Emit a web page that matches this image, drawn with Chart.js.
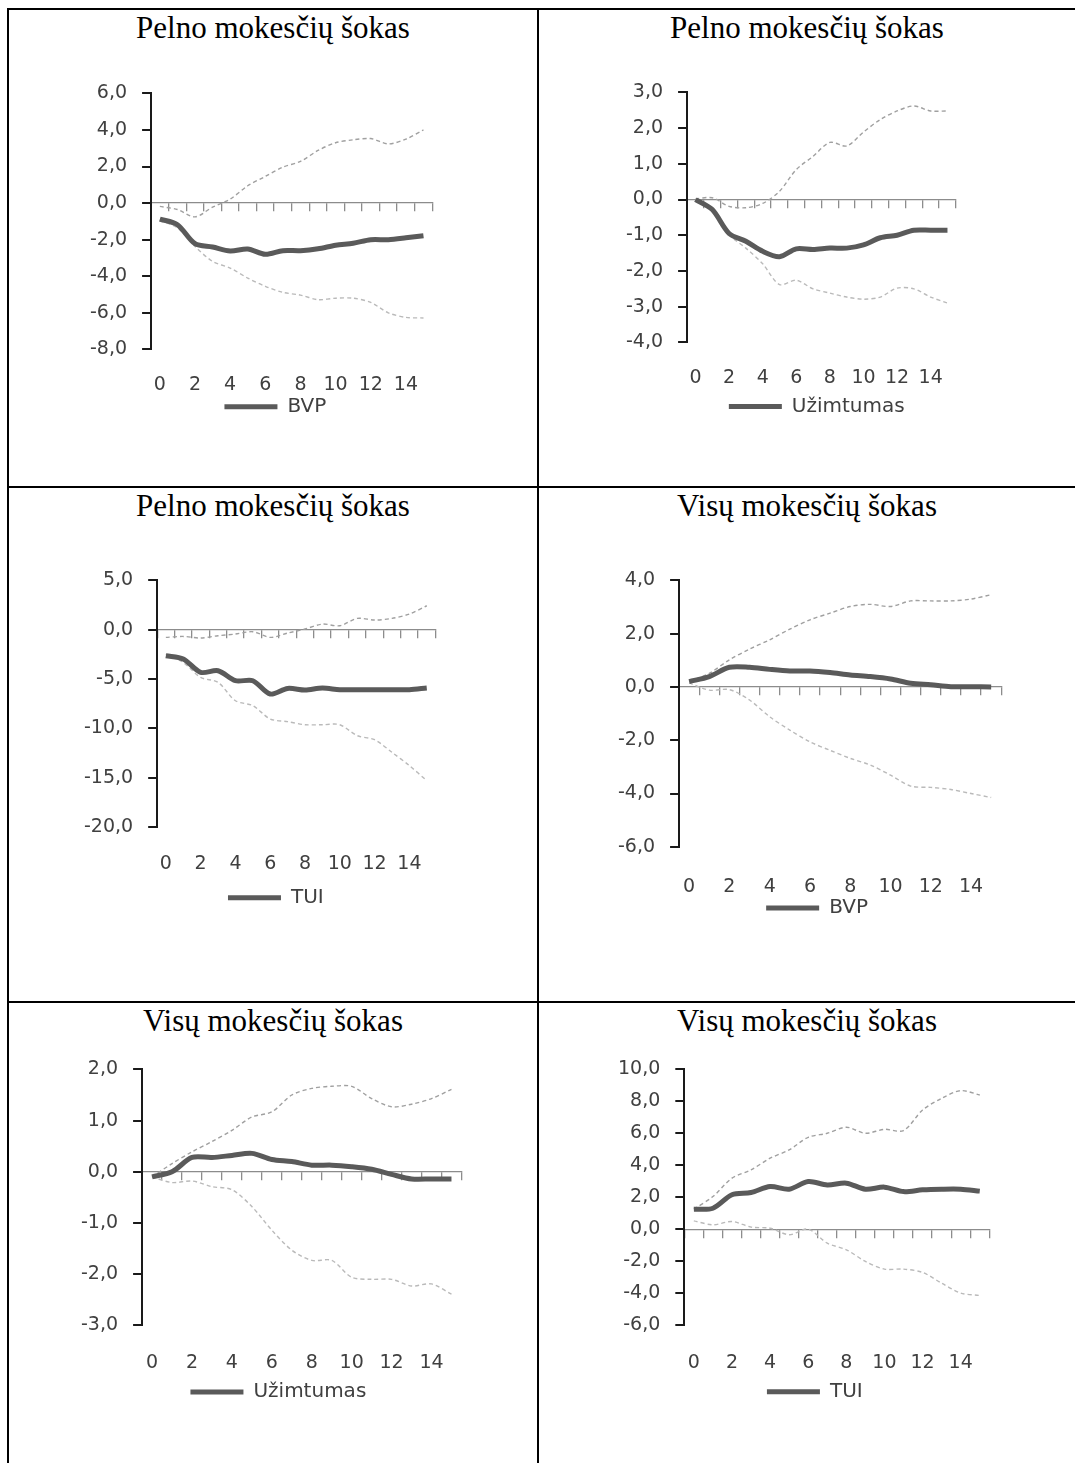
<!DOCTYPE html>
<html>
<head>
<meta charset="utf-8">
<script src="https://cdn.jsdelivr.net/npm/chart.js@4.4.0/dist/chart.umd.min.js"></script>
<style>
html, body { margin: 0; padding: 0; background: #fff; width: 1075px; height: 1463px; overflow: hidden; position: relative; }
.rule { position: absolute; background: #000; }
.title { position: absolute; font-family: "Liberation Serif", "Times New Roman", serif; font-size: 31px; line-height: 36px; text-align: center; color: #000; }
.box { position: absolute; }
.box canvas { display: block; }
</style>
</head>
<body>
<div class="rule" style="left:7px;top:8px;width:1080px;height:2px"></div>
<div class="rule" style="left:7px;top:486px;width:1080px;height:2px"></div>
<div class="rule" style="left:7px;top:1001px;width:1080px;height:2px"></div>
<div class="rule" style="left:7px;top:8px;width:2px;height:1470px"></div>
<div class="rule" style="left:537px;top:8px;width:2px;height:1470px"></div>

<script>
const periods = ['0','1','2','3','4','5','6','7','8','9','10','11','12','13','14','15'];

const titles = ['Pelno mokesčių šokas', 'Pelno mokesčių šokas', 'Pelno mokesčių šokas',
                'Visų mokesčių šokas', 'Visų mokesčių šokas', 'Visų mokesčių šokas'];
const seriesNames = ['BVP', 'Užimtumas', 'TUI', 'BVP', 'Užimtumas', 'TUI'];

// pelno mokesčių šokas
const profitGdp   = [-0.87,-1.18,-2.22,-2.4,-2.62,-2.51,-2.8,-2.6,-2.6,-2.5,-2.3,-2.19,-2.0,-2.0,-1.9,-1.78];
const profitGdpHi = [-0.18,-0.35,-0.75,-0.22,0.22,0.95,1.46,1.97,2.28,2.88,3.3,3.46,3.53,3.24,3.5,4.0];
const profitGdpLo = [-0.95,-1.35,-2.37,-3.19,-3.55,-4.1,-4.55,-4.88,-5.03,-5.28,-5.2,-5.2,-5.43,-6.0,-6.25,-6.28];

const profitEmp   = [0,-0.28,-0.95,-1.17,-1.45,-1.6,-1.38,-1.4,-1.36,-1.36,-1.27,-1.07,-1.0,-0.86,-0.86,-0.86];
const profitEmpHi = [0.02,0.05,-0.19,-0.23,-0.11,0.23,0.84,1.21,1.6,1.5,1.89,2.24,2.48,2.62,2.48,2.48];
const profitEmpLo = [0,-0.3,-0.98,-1.36,-1.8,-2.38,-2.26,-2.5,-2.62,-2.73,-2.79,-2.73,-2.48,-2.5,-2.73,-2.9];

const profitFdi   = [-2.64,-2.97,-4.32,-4.16,-5.17,-5.17,-6.52,-5.95,-6.11,-5.91,-6.08,-6.08,-6.08,-6.08,-6.08,-5.91];
const profitFdiHi = [-0.78,-0.68,-0.84,-0.61,-0.44,-0.2,-0.78,-0.34,0.07,0.57,0.4,1.15,0.98,1.15,1.59,2.43];
const profitFdiLo = [-2.47,-3.31,-4.83,-5.34,-7.2,-7.7,-9.05,-9.32,-9.63,-9.63,-9.63,-10.74,-11.15,-12.43,-13.78,-15.3];

// visų mokesčių šokas
const totalGdp   = [0.2,0.39,0.74,0.74,0.66,0.6,0.6,0.54,0.45,0.39,0.3,0.14,0.08,0.01,0.01,0.0];
const totalGdpHi = [0.2,0.51,1.02,1.42,1.77,2.17,2.52,2.77,3.02,3.1,3.02,3.23,3.23,3.23,3.3,3.46];
const totalGdpLo = [0.15,-0.12,-0.1,-0.49,-1.12,-1.62,-2.06,-2.38,-2.68,-2.93,-3.31,-3.72,-3.77,-3.85,-4.0,-4.15];

const totalEmp   = [-0.1,0,0.28,0.28,0.32,0.36,0.24,0.2,0.13,0.13,0.1,0.05,-0.05,-0.14,-0.14,-0.14];
const totalEmpHi = [-0.1,0.16,0.39,0.59,0.81,1.07,1.17,1.5,1.63,1.67,1.67,1.43,1.27,1.32,1.43,1.61];
const totalEmpLo = [-0.1,-0.21,-0.18,-0.29,-0.35,-0.68,-1.14,-1.53,-1.73,-1.73,-2.06,-2.1,-2.1,-2.23,-2.19,-2.39];

const totalFdi   = [1.25,1.31,2.15,2.29,2.67,2.5,2.98,2.77,2.88,2.5,2.63,2.35,2.46,2.5,2.5,2.38];
const totalFdiHi = [1.25,2.04,3.19,3.71,4.44,4.96,5.75,6.0,6.38,6.0,6.25,6.17,7.46,8.19,8.67,8.4];
const totalFdiLo = [0.52,0.27,0.48,0.13,0.06,-0.35,0.0,-0.88,-1.29,-2.02,-2.5,-2.5,-2.71,-3.38,-4.0,-4.15];

// y axis: [min, max, step]
const yRanges = [[-8, 6, 2], [-4, 3, 1], [-20, 5, 5], [-6, 4, 2], [-3, 2, 1], [-6, 10, 2]];

const midSeries = [profitGdp, profitEmp, profitFdi, totalGdp, totalEmp, totalFdi];
const hiSeries  = [profitGdpHi, profitEmpHi, profitFdiHi, totalGdpHi, totalEmpHi, totalFdiHi];
const loSeries  = [profitGdpLo, profitEmpLo, profitFdiLo, totalGdpLo, totalEmpLo, totalFdiLo];

// layout: table cells [left, top, width], plot areas [left, top, right, bottom],
// distance of x labels below the plot, legend centre [x, y]
const cells = [[9, 10, 528], [539, 10, 536], [9, 488, 528], [539, 488, 536], [9, 1003, 528], [539, 1003, 536]];
const plotAreas = [
  [150.7, 93.3, 433, 349.3],
  [687.3, 92.7, 958.3, 342.7],
  [157.3, 580.7, 436.7, 827.3],
  [679.3, 580.7, 1001.7, 846.7],
  [141.7, 1069, 461.7, 1325],
  [684, 1069.3, 989.3, 1325]
];
const labelGaps = [34, 34, 35.7, 38.3, 36, 36.7];
const legendSpots = [[271, 406.7], [813, 406.7], [272, 898], [813.3, 908.3], [274, 1391.7], [810.5, 1391.7]];

const LEGEND_SIZE = 20;
const LEGEND_PAD = 8;

Chart.defaults.font.family = '"DejaVu Sans", Verdana, sans-serif';
Chart.defaults.font.size = 19;
Chart.defaults.color = '#404040';

const tickFmt = v => v.toFixed(1).replace('.', ',');

function makeChart(canvas, i) {
  const r = yRanges[i];
  const p = plotAreas[i];
  // put the legend where the original has it
  const legendSpot = {
    id: 'legendSpot',
    beforeDraw(chart) {
      const lg = chart.legend;
      const ca = chart.chartArea;
      const tx = legendSpots[i][0] - p[0] + ca.left;
      const ty = legendSpots[i][1] - p[1] + ca.top;
      const dx = tx - (lg.left + lg.right - LEGEND_PAD) / 2;
      const dy = ty - (lg.top + LEGEND_PAD + LEGEND_SIZE / 2);
      lg.left += dx; lg.right += dx;
      lg.top += dy; lg.bottom += dy;
    }
  };
  return new Chart(canvas, {
    type: 'line',
    data: {
      labels: periods,
      datasets: [{
        label: seriesNames[i],
        data: midSeries[i],
        borderColor: '#5a5a5a',
        backgroundColor: '#5a5a5a',
        borderWidth: 5,
        pointRadius: 0,
        pointStyle: 'line',
        tension: 0.3,
        xAxisID: 'x'
      }, {
        label: 'hi',
        data: hiSeries[i],
        borderColor: '#a0a0a0',
        borderWidth: 1.4,
        borderDash: [4, 3],
        pointRadius: 0,
        tension: 0.3,
        xAxisID: 'x'
      }, {
        label: 'lo',
        data: loSeries[i],
        borderColor: '#bababa',
        borderWidth: 1.4,
        borderDash: [4, 3],
        pointRadius: 0,
        tension: 0.3,
        xAxisID: 'x'
      }]
    },
    plugins: [legendSpot],
    options: {
      responsive: false,
      maintainAspectRatio: false,
      animation: false,
      layout: { padding: { top: 14, right: 4 } },
      plugins: {
        tooltip: { enabled: false },
        legend: {
          position: 'bottom',
          labels: {
            filter: item => item.datasetIndex === 0,
            usePointStyle: true,
            pointStyle: 'line',
            pointStyleWidth: 53,
            padding: LEGEND_PAD,
            font: { size: LEGEND_SIZE }
          }
        }
      },
      scales: {
        x: {
          type: 'category',
          position: { y: 0 },
          offset: true,
          grid: { offset: true, drawOnChartArea: false, tickLength: 8, color: '#8c8c8c', lineWidth: 1.3 },
          border: { color: '#8c8c8c', width: 1.3 },
          ticks: { display: false, autoSkip: false }
        },
        x2: {
          type: 'category',
          axis: 'x',
          position: 'bottom',
          offset: true,
          grid: { display: false, drawTicks: false },
          border: { display: false },
          ticks: {
            autoSkip: false,
            maxRotation: 0,
            padding: 24 + labelGaps[i] - 33.6,
            callback: (v, k) => (k % 2 ? '' : periods[k])
          }
        },
        y: {
          min: r[0],
          max: r[1],
          ticks: { stepSize: r[2], padding: 15, callback: tickFmt },
          grid: { drawOnChartArea: false, tickLength: 9, color: '#1a1a1a', lineWidth: 2 },
          border: { color: '#1a1a1a', width: 2 }
        }
      }
    }
  });
}

titles.forEach((t, i) => {
  const c = cells[i];
  const title = document.createElement('div');
  title.className = 'title';
  title.style.left = c[0] + 'px';
  title.style.top = c[1] + 'px';
  title.style.width = c[2] + 'px';
  title.textContent = t;
  document.body.appendChild(title);

  const box = document.createElement('div');
  box.className = 'box';
  const canvas = document.createElement('canvas');
  canvas.width = 420;
  canvas.height = 400;
  box.appendChild(canvas);
  document.body.appendChild(box);

  // first pass to learn how much room the axes and legend take
  const p = plotAreas[i];
  let chart = makeChart(canvas, i);
  let a = chart.chartArea;
  const w = Math.round(canvas.width + (p[2] - p[0]) - (a.right - a.left));
  const h = Math.round(canvas.height + (p[3] - p[1]) - (a.bottom - a.top));
  chart.destroy();
  canvas.width = w;
  canvas.height = h;
  chart = makeChart(canvas, i);
  a = chart.chartArea;
  box.style.left = (p[0] - a.left) + 'px';
  box.style.top = (p[1] - a.top) + 'px';
});
</script>
</body>
</html>
